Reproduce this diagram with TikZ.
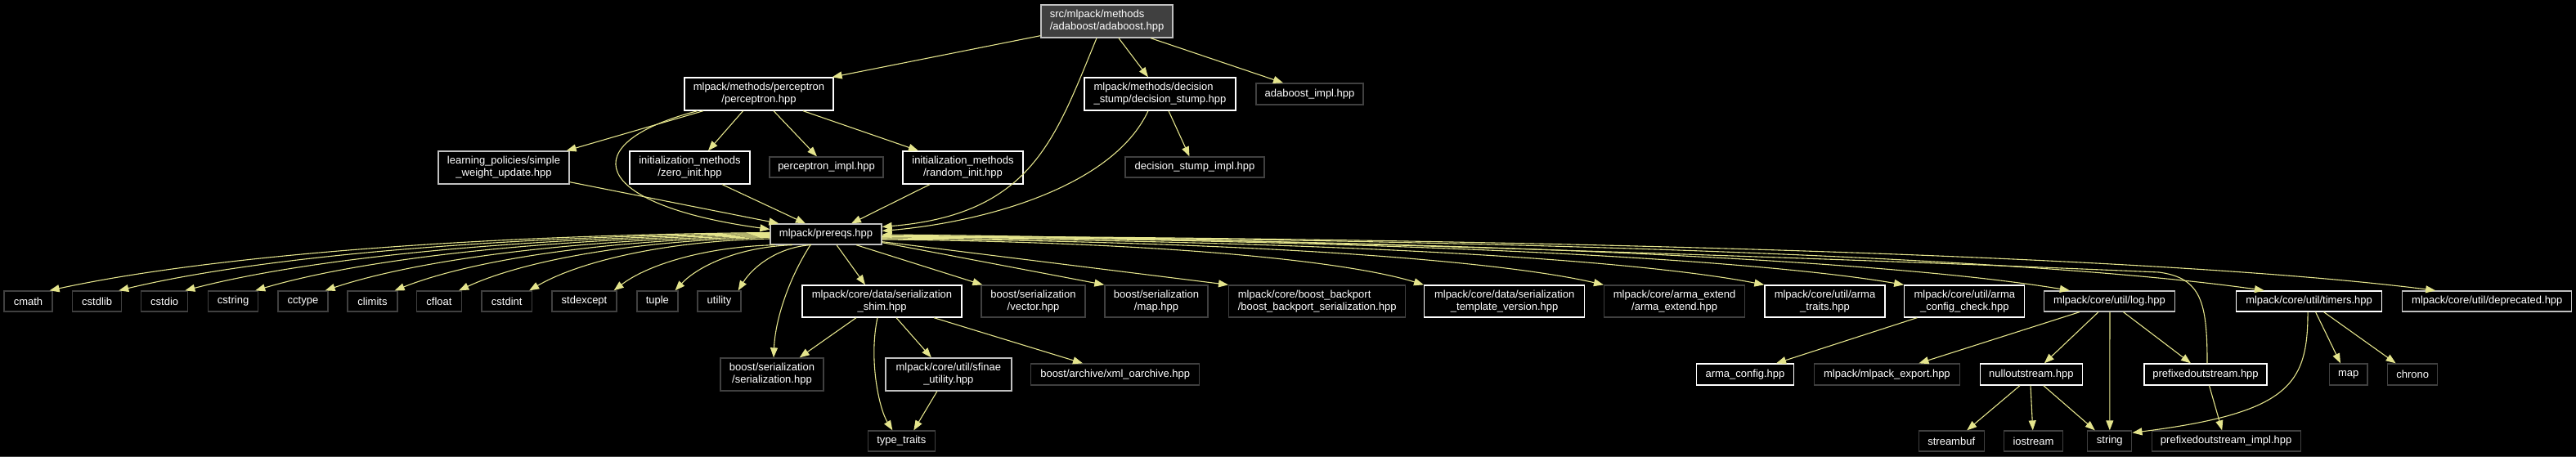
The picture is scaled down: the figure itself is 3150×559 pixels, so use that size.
\documentclass[tikz,border=0pt]{standalone}
\usepackage{fontspec}
\setmainfont{Liberation Sans}
\usetikzlibrary{arrows.meta,calc}
\definecolor{edgec}{RGB}{228,228,140}
\definecolor{gborder}{RGB}{64,64,64}
\definecolor{lborder}{RGB}{192,192,192}
\definecolor{rootfill}{RGB}{64,64,64}
\begin{document}
\begin{tikzpicture}[x=1pt,y=-1pt,
  box/.style={draw, line width=1.3pt, fill=black, text=white, inner sep=0pt,
    font=\fontsize{13}{15}\selectfont, align=center},
  wbox/.style={box, draw=white},
  lbox/.style={box, draw=lborder},
  gbox/.style={box, draw=gborder},
  dep/.style={draw=edgec, line width=1.1pt, -{Triangle[length=12pt,width=9pt]}},
]
\fill[black] (0,0) rectangle (3150,559);
\useasboundingbox (0,0) rectangle (3150,559);
\draw[gborder, line width=1pt] (0,558.5) -- (3150,558.5);

% row 1-3
\node[box, fill=rootfill, draw=lborder, align=left, minimum width=161, minimum height=40] (root) at (1353.5,26) {src/mlpack/methods\\/adaboost/adaboost.hpp};
\node[wbox, minimum width=182, minimum height=40] (perc) at (928,115) {mlpack/methods/perceptron\\/perceptron.hpp};
\node[wbox, align=left, minimum width=185, minimum height=40] (dstump) at (1418.5,115) {mlpack/methods/decision\\\_stump/decision\_stump.hpp};
\node[gbox, minimum width=131, minimum height=26] (adaimpl) at (1601.5,115) {adaboost\_impl.hpp};
\node[lbox, minimum width=160, minimum height=40] (swu) at (616,205) {learning\_policies/simple\\\_weight\_update.hpp};
\node[wbox, minimum width=147, minimum height=40] (zinit) at (843.5,205) {initialization\_methods\\/zero\_init.hpp};
\node[gbox, minimum width=139, minimum height=25] (pimpl) at (1010.5,204.5) {perceptron\_impl.hpp};
\node[wbox, minimum width=147, minimum height=40] (rinit) at (1177.5,205) {initialization\_methods\\/random\_init.hpp};
\node[gbox, minimum width=170, minimum height=25] (dsimpl) at (1461,204.5) {decision\_stump\_impl.hpp};
\node[lbox, minimum width=136, minimum height=25] (prereqs) at (1010,286.5) {mlpack/prereqs.hpp};

% row 4
\node[gbox, minimum width=59, minimum height=25] (cmath) at (34.5,368.5) {cmath};
\node[gbox, minimum width=60, minimum height=25] (cstdlib) at (118.6,368.5) {cstdlib};
\node[gbox, minimum width=57, minimum height=25] (cstdio) at (201.2,368.5) {cstdio};
\node[gbox, minimum width=61, minimum height=25] (cstring) at (285.1,368.5) {cstring};
\node[gbox, minimum width=61, minimum height=25] (cctype) at (370.5,368.5) {cctype};
\node[gbox, minimum width=61, minimum height=25] (climits) at (455.5,368.5) {climits};
\node[gbox, minimum width=55, minimum height=25] (cfloat) at (537,368.5) {cfloat};
\node[gbox, minimum width=61.5, minimum height=25] (cstdint) at (619.75,368.5) {cstdint};
\node[gbox, minimum width=79, minimum height=25] (stdexcept) at (714.5,368.5) {stdexcept};
\node[gbox, minimum width=50, minimum height=25] (tuple) at (803.85,368.5) {tuple};
\node[gbox, minimum width=53, minimum height=25] (utility) at (879.5,368.5) {utility};
\node[wbox, minimum width=195, minimum height=39] (shim) at (1078.5,368.5) {mlpack/core/data/serialization\\\_shim.hpp};
\node[gbox, minimum width=127, minimum height=39] (bvector) at (1263.5,368.5) {boost/serialization\\/vector.hpp};
\node[gbox, minimum width=126, minimum height=39] (bmap) at (1414,368.5) {boost/serialization\\/map.hpp};
\node[gbox, align=left, minimum width=216, minimum height=39] (backport) at (1610.65,368.5) {mlpack/core/boost\_backport\\/boost\_backport\_serialization.hpp};
\node[wbox, minimum width=196, minimum height=39] (tversion) at (1839.65,368.5) {mlpack/core/data/serialization\\\_template\_version.hpp};
\node[gbox, minimum width=172, minimum height=39] (armaext) at (2047.6,368.5) {mlpack/core/arma\_extend\\/arma\_extend.hpp};
\node[wbox, minimum width=147, minimum height=39] (armatraits) at (2231.5,368.5) {mlpack/core/util/arma\\\_traits.hpp};
\node[wbox, minimum width=147, minimum height=39] (armacc) at (2402.3,368.5) {mlpack/core/util/arma\\\_config\_check.hpp};
\node[lbox, minimum width=160, minimum height=25] (log) at (2579.45,368.5) {mlpack/core/util/log.hpp};
\node[wbox, minimum width=178, minimum height=25] (timers) at (2823.55,368.5) {mlpack/core/util/timers.hpp};
\node[lbox, minimum width=207, minimum height=25] (deprecated) at (3041.3,368.5) {mlpack/core/util/deprecated.hpp};

% row 5
\node[gbox, minimum width=126, minimum height=40] (bser) at (944,458) {boost/serialization\\/serialization.hpp};
\node[lbox, minimum width=154, minimum height=40] (sfinae) at (1159.85,458) {mlpack/core/util/sfinae\\\_utility.hpp};
\node[gbox, minimum width=206, minimum height=26] (xml) at (1363.7,458) {boost/archive/xml\_oarchive.hpp};
\node[wbox, minimum width=119, minimum height=26] (armaconf) at (2134,458) {arma\_config.hpp};
\node[gbox, minimum width=178, minimum height=26] (mexport) at (2307.4,458) {mlpack/mlpack\_export.hpp};
\node[wbox, minimum width=125, minimum height=26] (nullos) at (2483.8,458) {nulloutstream.hpp};
\node[wbox, minimum width=150, minimum height=26] (prefos) at (2697,458) {prefixedoutstream.hpp};
\node[gbox, minimum width=46.5, minimum height=26] (smap) at (2871.75,458) {map};
\node[gbox, minimum width=61, minimum height=26] (chrono) at (2950.2,458) {chrono};

% row 6
\node[gbox, minimum width=82, minimum height=25] (ttraits) at (1102.35,539.5) {type\_traits};
\node[gbox, minimum width=80, minimum height=25] (streambuf) at (2386.2,539.5) {streambuf};
\node[gbox, minimum width=72, minimum height=25] (iostream) at (2486.45,539.5) {iostream};
\node[gbox, minimum width=54, minimum height=25] (string) at (2579.8,539.5) {string};
\node[gbox, minimum width=182, minimum height=25] (prefimpl) at (2722.15,539.5) {prefixedoutstream\_impl.hpp};

% edges: top
\draw[dep] ($(root.south west)+(0,-3)$) -- ($(perc.north east)+(-2,0)$);
\draw[dep] ($(root.south)+(-12.5,0)$) .. controls (1290,170) and (1262,262) .. ($(prereqs.east)+(0,-9)$);
\draw[dep] ($(root.south)+(14.5,0)$) -- ($(dstump.north)+(-14.5,0)$);
\draw[dep] ($(root.south)+(53.5,0)$) -- ($(adaimpl.north)+(-32.5,0)$);
\draw[dep] ($(perc.south)+(-19.4,0)$) -- ($(zinit.north)+(22.5,0)$);
\draw[dep] ($(perc.south)+(18,0)$) -- ($(pimpl.north)+(-11.5,0)$);
\draw[dep] ($(perc.south)+(54,0)$) -- ($(rinit.north)+(-54.5,0)$);
\draw[dep] ($(perc.south)+(-68,0)$) -- ($(swu.north east)+(-4,0)$);
\draw[dep] ($(perc.south)+(-75,0)$) .. controls (700,175) and (720,250) .. ($(prereqs.west)+(0,-6)$);
\draw[dep] ($(swu.south east)+(0,-3)$) -- ($(prereqs.north west)+(11,0)$);
\draw[dep] ($(zinit.south)+(39.5,0)$) -- ($(prereqs.north)+(-25,0)$);
\draw[dep] ($(rinit.south)+(-40.5,0)$) -- ($(prereqs.north)+(31,0)$);
\draw[dep] ($(dstump.south)+(-14.5,0)$) .. controls (1360,230) and (1200,272) .. ($(prereqs.east)+(0,-4)$);
\draw[dep] ($(dstump.south)+(10.5,0)$) -- ($(dsimpl.north)+(-6.5,0)$);
\draw[dep] ($(prefos.north)+(2,0)$) .. controls (2699,370) and (2692,340) .. (2640,333)
  .. controls (2300,318) and (1500,290) .. ($(prereqs.east)+(0,0.5)$);

% prereqs -> left fan
\draw[dep] ($(prereqs.west)+(0,-2)$) .. controls (545,288) and (236,317) .. ($(cmath.north east)+(-4,0)$);
\draw[dep] ($(prereqs.west)+(0,-1)$) .. controls (583,289) and (304,317) .. ($(cstdlib.north east)+(-4,0)$);
\draw[dep] ($(prereqs.west)+(0,0)$) .. controls (620,290) and (369,318) .. ($(cstdio.north east)+(-4,0)$);
\draw[dep] ($(prereqs.west)+(0,1)$) .. controls (658,291) and (438,318) .. ($(cstring.north east)+(-4,0)$);
\draw[dep] ($(prereqs.west)+(0,2)$) .. controls (697,292) and (506,319) .. ($(cctype.north east)+(-4,0)$);
\draw[dep] ($(prereqs.west)+(0,3)$) .. controls (735,293) and (574,319) .. ($(climits.north east)+(-4,0)$);
\draw[dep] ($(prereqs.west)+(0,4)$) .. controls (770,294) and (637,320) .. ($(cfloat.north east)+(-4,0)$);
\draw[dep] ($(prereqs.west)+(0,5.5)$) .. controls (809,295) and (706,321) .. ($(cstdint.north east)+(-4,0)$);
\draw[dep] ($(prereqs.south west)+(6,0)$) .. controls (859,302) and (790,325) .. ($(stdexcept.north east)+(-4,0)$);
\draw[dep] ($(prereqs.south)+(-41,0)$) .. controls (904,302) and (854,325) .. ($(tuple.north east)+(-4,0)$);
\draw[dep] ($(prereqs.south)+(-18,0)$) .. controls (951,302) and (920,327) .. ($(utility.north east)+(-4,0)$);

% prereqs -> below / right
\draw[dep] ($(prereqs.south)+(-19,0)$) .. controls (965,340) and (948,390) .. ($(bser.north)+(2,0)$);
\draw[dep] ($(prereqs.south)+(13,0)$) -- ($(shim.north)+(-20.5,0)$);
\draw[dep] ($(prereqs.south)+(37,0)$) -- ($(bvector.north west)+(2,0)$);
\draw[dep] ($(prereqs.south east)+(0,-3)$) -- (bmap.north west);
\draw[dep] ($(prereqs.south east)+(0,-4)$) -- (backport.north west);
\draw[dep] ($(prereqs.east)+(0,6.5)$) .. controls (1410,296) and (1642,318) .. (tversion.north west);
\draw[dep] ($(prereqs.east)+(0,5.5)$) .. controls (1520,295) and (1829,318) .. (armaext.north west);
\draw[dep] ($(prereqs.east)+(0,4.5)$) .. controls (1618,294) and (1996,317) .. (armatraits.north west);
\draw[dep] ($(prereqs.east)+(0,3.5)$) .. controls (1703,293) and (2141,316.5) .. (armacc.north west);
\draw[dep] ($(prereqs.east)+(0,3)$) .. controls (1805,293) and (2313,319) .. ($(log.north west)+(32,0)$);
\draw[dep] ($(prereqs.east)+(0,2.5)$) .. controls (1924,292) and (2515,319) .. ($(timers.north west)+(35,0)$);
\draw[dep] ($(prereqs.east)+(0,2)$) .. controls (2028,292) and (2694,319) .. ($(deprecated.north west)+(41,0)$);

% shim and friends
\draw[dep] ($(shim.south)+(-31.5,0)$) -- ($(bser.north east)+(-30,0)$);
\draw[dep] ($(shim.south)+(17.5,0)$) -- ($(sfinae.north)+(-21,0)$);
\draw[dep] ($(shim.south)+(-5.5,0)$) .. controls (1062,440) and (1075,500) .. ($(ttraits.north)+(-11,0)$);
\draw[dep] ($(shim.south)+(63.5,0)$) -- ($(xml.north)+(-39.7,0)$);
\draw[dep] ($(sfinae.south)+(-14,0)$) -- ($(ttraits.north)+(15,0)$);

% util
\draw[dep] ($(armacc.south)+(-58,0)$) -- ($(armaconf.north)+(38,0)$);
\draw[dep] ($(log.south)+(-36.5,0)$) -- ($(mexport.north)+(39,0)$);
\draw[dep] ($(log.south)+(-13.5,0)$) -- ($(nullos.north)+(16,0)$);
\draw[dep] ($(log.south)+(0.5,0)$) -- (string.north);
\draw[dep] ($(log.south)+(17,0)$) -- ($(prefos.north)+(-18,0)$);
\draw[dep] ($(timers.south)+(-1.5,0)$) .. controls (2822,470) and (2800,505) .. ($(string.north east)+(0,3)$);
\draw[dep] ($(timers.south)+(8,0)$) -- ($(smap.north)+(-9.75,0)$);
\draw[dep] ($(timers.south)+(18,0)$) -- ($(chrono.north)+(-20.6,0)$);
\draw[dep] ($(nullos.south)+(-13.8,0)$) -- ($(streambuf.north)+(19,0)$);
\draw[dep] ($(nullos.south)+(-0.8,0)$) -- ($(iostream.north)+(-0.7,0)$);
\draw[dep] ($(nullos.south)+(15,0)$) -- ($(string.north)+(-18,0)$);
\draw[dep] ($(prefos.south)+(4.5,0)$) -- ($(prefimpl.north)+(-5,0)$);
\end{tikzpicture}
\end{document}
